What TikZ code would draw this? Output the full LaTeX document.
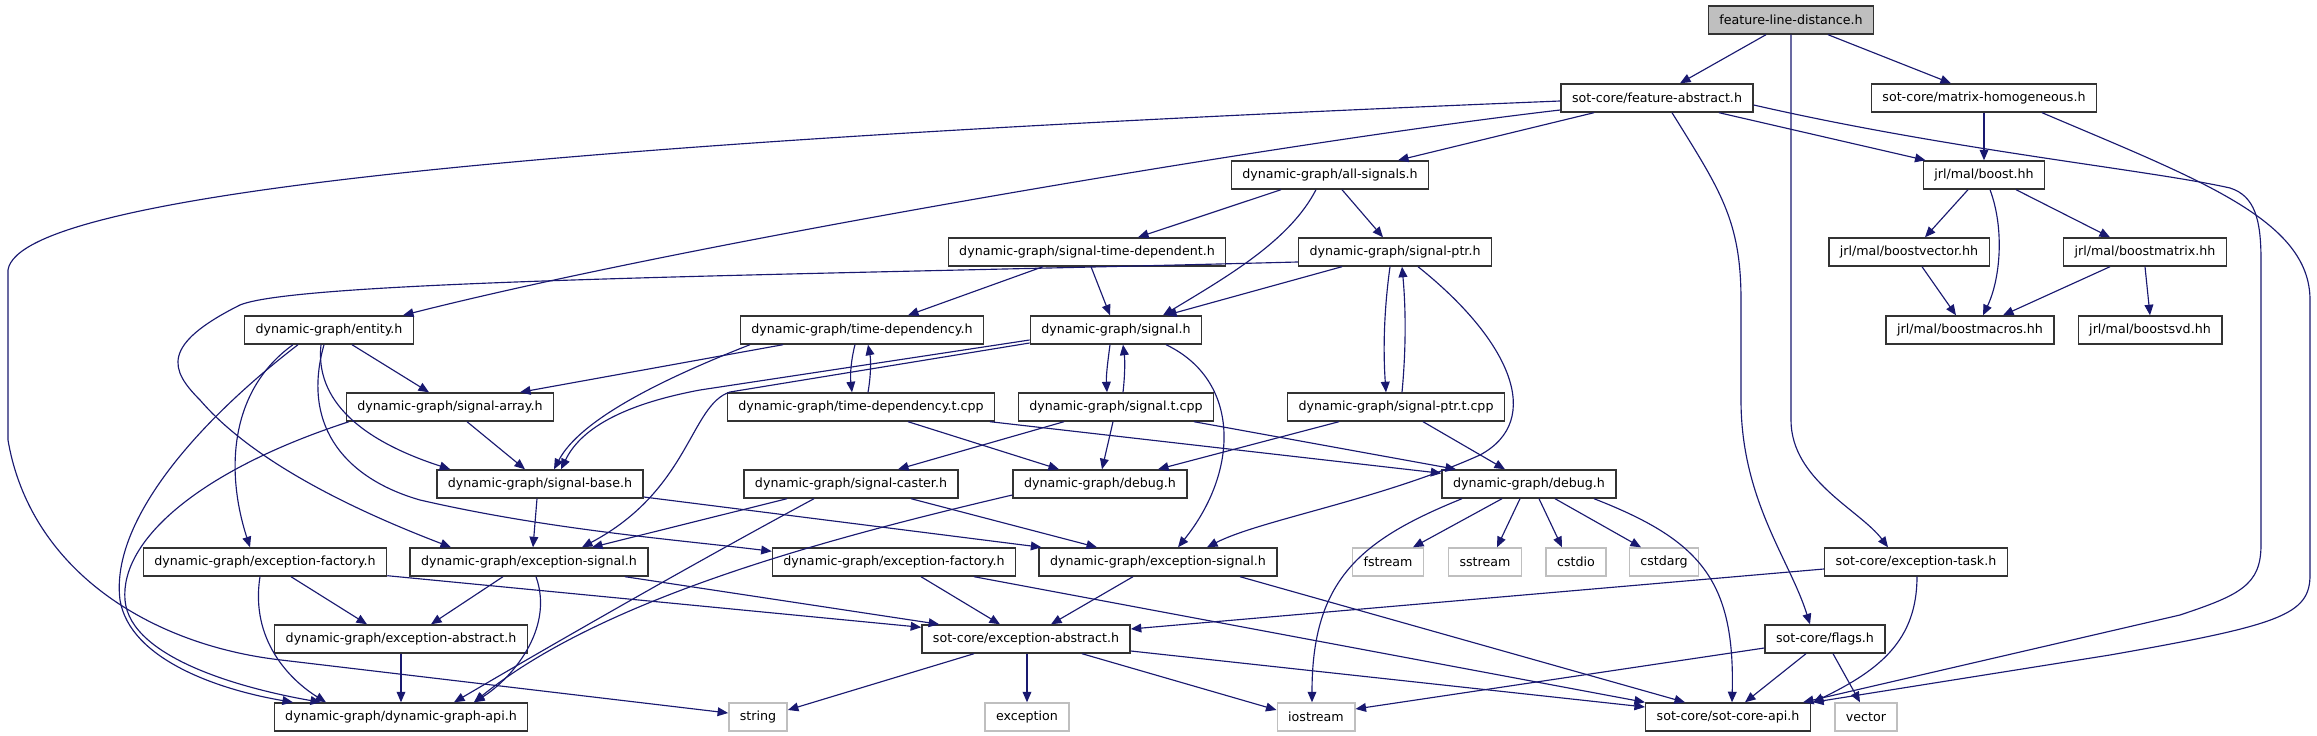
\documentclass[tikz,border=0pt]{standalone}
\usepackage{fontspec}
\setmainfont{DejaVu Sans}
\usepackage{tikz}
\usetikzlibrary{arrows.meta,calc}
\usepackage{xcolor}
\definecolor{Midnight}{RGB}{25,25,112}
\definecolor{RootGray}{RGB}{191,191,191}
\definecolor{SysGray}{RGB}{191,191,191}
\tikzset{
  fnode/.style={rectangle,draw=black!80,fill=white,line width=0.8pt,
                font=\fontsize{7.2}{9}\selectfont,minimum height=0.56cm,
                inner xsep=0.22cm,inner ysep=0pt},
  fsys/.style={fnode,draw=SysGray},
  froot/.style={fnode,fill=RootGray},
  fedge/.style={-{Triangle[length=6pt,width=5pt]},Midnight,line width=0.65pt},
}

\begin{document}
\begin{tikzpicture}[x=0.02cm,y=-0.02cm]
    \useasboundingbox (0,0) rectangle (2317,736);
    % headers
    \node[froot] (fld) at (1791,20) {feature-line-distance.h};
    \node[fnode] (featabs) at (1657,98) {sot-core/feature-abstract.h};
    \node[fnode] (matHom) at (1984,98) {sot-core/matrix-homogeneous.h};
    \node[fnode] (boost) at (1984,175) {jrl/mal/boost.hh};
    \node[fnode] (bvec) at (1909,252) {jrl/mal/boostvector.hh};
    \node[fnode] (bmat) at (2145,252) {jrl/mal/boostmatrix.hh};
    \node[fnode] (bmacros) at (1970,330) {jrl/mal/boostmacros.hh};
    \node[fnode] (bsvd) at (2150,330) {jrl/mal/boostsvd.hh};
    \node[fnode] (allsig) at (1330,175) {dynamic-graph/all-signals.h};
    \node[fnode] (sigtd) at (1087,252) {dynamic-graph/signal-time-dependent.h};
    \node[fnode] (sigptr) at (1395,252) {dynamic-graph/signal-ptr.h};
    \node[fnode] (entity) at (329,330) {dynamic-graph/entity.h};
    \node[fnode] (timedep) at (862,330) {dynamic-graph/time-dependency.h};
    \node[fnode] (signal) at (1116,330) {dynamic-graph/signal.h};
    \node[fnode] (sigarr) at (450,407) {dynamic-graph/signal-array.h};
    \node[fnode] (timedept) at (861,407) {dynamic-graph/time-dependency.t.cpp};
    \node[fnode] (sigt) at (1116,407) {dynamic-graph/signal.t.cpp};
    \node[fnode] (sigptrt) at (1396,407) {dynamic-graph/signal-ptr.t.cpp};
    \node[fnode] (sigbase) at (540,484) {dynamic-graph/signal-base.h};
    \node[fnode] (sigcast) at (851,484) {dynamic-graph/signal-caster.h};
    \node[fnode] (debugA) at (1100,484) {dynamic-graph/debug.h};
    \node[fnode] (debugB) at (1529,484) {dynamic-graph/debug.h};
    \node[fnode] (excfacA) at (265,562) {dynamic-graph/exception-factory.h};
    \node[fnode] (excsigA) at (529,562) {dynamic-graph/exception-signal.h};
    \node[fnode] (excfacB) at (894,562) {dynamic-graph/exception-factory.h};
    \node[fnode] (excsigB) at (1158,562) {dynamic-graph/exception-signal.h};
    \node[fsys] (fstream) at (1388,562) {fstream};
    \node[fsys] (sstream) at (1485,562) {sstream};
    \node[fsys] (cstdio) at (1576,562) {cstdio};
    \node[fsys] (cstdarg) at (1664,562) {cstdarg};
    \node[fnode] (exctask) at (1916,562) {sot-core/exception-task.h};
    \node[fnode] (dgexcabs) at (401,639) {dynamic-graph/exception-abstract.h};
    \node[fnode] (sotexcabs) at (1026,639) {sot-core/exception-abstract.h};
    \node[fnode] (flags) at (1825,639) {sot-core/flags.h};
    \node[fnode] (dgapi) at (401,717) {dynamic-graph/dynamic-graph-api.h};
    \node[fsys] (string) at (758,717) {string};
    \node[fsys] (exception) at (1027,717) {exception};
    \node[fsys] (iostream) at (1316,717) {iostream};
    \node[fnode] (sotapi) at (1728,717) {sot-core/sot-core-api.h};
    \node[fsys] (vector) at (1866,717) {vector};

    % top part
    \draw[fedge] ($(fld.south)+(-25,0)$) -- ($(featabs.north)+(23,0)$);
    \draw[fedge] ($(fld.south)+(37,0)$) -- ($(matHom.north)+(-33,0)$);
    \draw[fedge] (fld.south) -- (1791,420) .. controls (1791,480) and (1860,510) .. ($(exctask.north)+(-28,0)$);
    \draw[fedge] ($(featabs.west)+(0,3)$) .. controls (600,140) and (20,190) .. (8,270) -- (8,440)
        .. controls (30,570) and (150,645) .. (281,660) -- ($(string.west)+(0,-4)$);
    \draw[fedge] ($(featabs.west)+(0,12)$) .. controls (1300,140) and (700,240) .. ($(entity.north)+(74,0)$);
    \draw[fedge] ($(featabs.south)+(-63,0)$) -- ($(allsig.north)+(68,0)$);
    \draw[fedge] ($(featabs.south)+(62,0)$) -- ($(boost.north west)+(3,0)$);
    \draw[fedge] ($(featabs.south)+(15,0)$) .. controls (1720,190) and (1741,220) .. (1741,300) -- (1741,400)
        .. controls (1741,500) and (1790,560) .. ($(flags.north)+(-15,0)$);
    \draw[fedge] ($(featabs.east)+(0,7)$) .. controls (1950,150) and (2150,170) .. (2230,188)
        .. controls (2255,196) and (2261,220) .. (2261,260) -- (2261,545)
        .. controls (2261,585) and (2240,595) .. (2180,615) -- ($(sotapi.north east)+(-8,0)$);
    \draw[fedge] (matHom.south) -- (boost.north);
    \draw[fedge] ($(matHom.south)+(58,0)$) .. controls (2200,180) and (2310,220) .. (2310,300) -- (2310,575)
        .. controls (2310,615) and (2280,625) .. (2110,655) -- ($(sotapi.north east)+(2,0)$);
    \draw[fedge] ($(boost.south)+(-16,0)$) -- ($(bvec.north)+(16,0)$);
    \draw[fedge] ($(boost.south)+(6,0)$) .. controls (2005,230) and (2000,280) .. ($(bmacros.north)+(13,0)$);
    \draw[fedge] ($(boost.south)+(32,0)$) -- ($(bmat.north)+(-35,0)$);
    \draw[fedge] ($(bvec.south)+(13,0)$) -- ($(bmacros.north)+(-14,0)$);
    \draw[fedge] ($(bmat.south)+(-35,0)$) -- ($(bmacros.north)+(33,0)$);
    \draw[fedge] (bmat.south) -- (bsvd.north);

    % signals
    \draw[fedge] ($(allsig.south)+(-49,0)$) -- ($(sigtd.north)+(51,0)$);
    \draw[fedge] ($(allsig.south)+(-14,0)$) .. controls (1290,240) and (1230,275) .. ($(signal.north)+(47,0)$);
    \draw[fedge] ($(allsig.south)+(12,0)$) -- ($(sigptr.north)+(-12,0)$);
    \draw[fedge] ($(sigtd.south)+(-44,0)$) -- ($(timedep.north)+(46,0)$);
    \draw[fedge] ($(sigtd.south)+(4,0)$) -- ($(signal.north)+(-6,0)$);
    \draw[fedge] ($(sigptr.south)+(-53,0)$) -- ($(signal.north)+(50,0)$);
    \draw[fedge] ($(sigptr.south)+(-5,0)$) .. controls (1384,310) and (1383,350) .. ($(sigptrt.north)+(-10,0)$);
    \draw[fedge] ($(sigptrt.north)+(6,0)$) .. controls (1406,350) and (1406,310) .. ($(sigptr.south)+(7,0)$);
    \draw[fedge] ($(sigptr.south)+(23,0)$) .. controls (1510,340) and (1545,420) .. (1480,455)
        .. controls (1380,500) and (1260,520) .. ($(excsigB.north)+(49,0)$);
    \draw[fedge] ($(sigptr.west)+(0,10)$) .. controls (800,275) and (300,280) .. (240,305)
        .. controls (160,345) and (170,370) .. (200,400)
        .. controls (260,470) and (380,520) .. ($(excsigA.north)+(-78,0)$);
    \draw[fedge] ($(entity.south)+(23,0)$) -- ($(sigarr.north)+(-21,0)$);
    \draw[fedge] ($(entity.south)+(-8,0)$) .. controls (315,400) and (360,440) .. ($(sigbase.north west)+(14,0)$);
    \draw[fedge] ($(entity.south)+(-5,0)$) .. controls (300,430) and (350,480) .. (420,500)
        .. controls (550,530) and (680,540) .. ($(excfacB.north west)+(0,4)$);
    \draw[fedge] ($(entity.south)+(-36,0)$) .. controls (230,390) and (225,470) .. ($(excfacA.north)+(-15,0)$);
    \draw[fedge] ($(entity.south)+(-31,0)$) .. controls (200,420) and (110,520) .. (120,600)
        .. controls (130,660) and (220,690) .. ($(dgapi.north)+(-108,0)$);
    \draw[fedge] ($(sigarr.south)+(17,0)$) -- ($(sigbase.north)+(-15,0)$);
    \draw[fedge] ($(sigarr.south)+(-101,0)$) .. controls (200,470) and (120,540) .. (125,600)
        .. controls (130,660) and (250,690) .. ($(dgapi.north)+(-80,0)$);
    \draw[fedge] ($(timedep.south)+(-79,0)$) -- ($(sigarr.north)+(70,0)$);
    \draw[fedge] ($(timedep.south)+(-112,0)$) .. controls (660,380) and (580,420) .. ($(sigbase.north)+(14,0)$);
    \draw[fedge] ($(timedep.south)+(-7,0)$) .. controls (851,360) and (850,375) .. ($(timedept.north)+(-9,0)$);
    \draw[fedge] ($(timedept.north)+(7,0)$) .. controls (871,375) and (871,360) .. ($(timedep.south)+(6,0)$);
    \draw[fedge] ($(timedept.south)+(47,0)$) -- ($(debugA.north)+(-41,0)$);
    \draw[fedge] ($(timedept.south)+(129,0)$) -- ($(debugB.north west)+(0,4)$);
    \draw[fedge] ($(signal.south)+(-6,0)$) .. controls (1108,360) and (1106,375) .. ($(sigt.north)+(-9,0)$);
    \draw[fedge] ($(sigt.north)+(7,0)$) .. controls (1125,375) and (1125,360) .. ($(signal.south)+(7,0)$);
    \draw[fedge] ($(signal.west)+(0,10)$) -- (700,390) .. controls (620,405) and (580,430) .. ($(sigbase.north)+(21,0)$);
    \draw[fedge] ($(signal.west)+(0,13)$) -- (730,392) .. controls (690,405) and (690,490) .. ($(excsigA.north)+(53,0)$);
    \draw[fedge] ($(signal.south)+(50,0)$) .. controls (1240,380) and (1240,470) .. ($(excsigB.north)+(20,0)$);
    \draw[fedge] ($(sigt.south)+(-52,0)$) -- ($(sigcast.north)+(47,0)$);
    \draw[fedge] ($(sigt.south)+(-3,0)$) -- ($(debugA.north)+(2,0)$);
    \draw[fedge] ($(sigt.south)+(78,0)$) -- ($(debugB.north)+(-73,0)$);
    \draw[fedge] ($(sigptrt.south)+(-57,0)$) -- ($(debugA.north)+(58,0)$);
    \draw[fedge] ($(sigptrt.south)+(27,0)$) -- ($(debugB.north)+(-24,0)$);

    % exceptions and api
    \draw[fedge] ($(sigbase.south)+(-3,0)$) -- ($(excsigA.north)+(4,0)$);
    \draw[fedge] ($(sigbase.east)+(0,13)$) -- ($(excsigB.north west)+(3,0)$);
    \draw[fedge] ($(sigcast.south)+(-64,0)$) -- ($(excsigA.north)+(63,0)$);
    \draw[fedge] ($(sigcast.south)+(60,0)$) -- ($(excsigB.north)+(-61,0)$);
    \draw[fedge] ($(sigcast.south)+(-37,0)$) .. controls (700,560) and (560,640) .. ($(dgapi.north)+(53,0)$);
    \draw[fedge] ($(debugA.west)+(0,11)$) .. controls (820,540) and (600,600) .. ($(dgapi.north)+(73,0)$);
    \draw[fedge] ($(debugB.south)+(-27,0)$) -- ($(fstream.north)+(25,0)$);
    \draw[fedge] ($(debugB.south)+(-9,0)$) -- ($(sstream.north)+(12,0)$);
    \draw[fedge] ($(debugB.south)+(10,0)$) -- ($(cstdio.north)+(-14,0)$);
    \draw[fedge] ($(debugB.south)+(26,0)$) -- ($(cstdarg.north)+(-23,0)$);
    \draw[fedge] ($(debugB.south)+(-67,0)$) .. controls (1360,540) and (1312,580) .. ($(iostream.north)+(-4,0)$);
    \draw[fedge] ($(debugB.south)+(65,0)$) .. controls (1700,540) and (1735,580) .. ($(sotapi.north)+(4,0)$);
    \draw[fedge] ($(excfacA.south)+(26,0)$) -- ($(dgexcabs.north)+(-34,0)$);
    \draw[fedge] ($(excfacA.south)+(-5,0)$) .. controls (250,640) and (290,680) .. ($(dgapi.north)+(-75,0)$);
    \draw[fedge] ($(excfacA.south east)+(0,-1)$) -- ($(sotexcabs.north west)+(0,3)$);
    \draw[fedge] ($(excsigA.south)+(-26,0)$) -- ($(dgexcabs.north)+(30,0)$);
    \draw[fedge] ($(excsigA.south)+(7,0)$) .. controls (555,630) and (510,680) .. ($(dgapi.north)+(73,0)$);
    \draw[fedge] ($(excsigA.south)+(96,0)$) -- ($(sotexcabs.north west)+(18,0)$);
    \draw[fedge] ($(excfacB.south)+(27,0)$) -- ($(sotexcabs.north)+(-26,0)$);
    \draw[fedge] ($(excfacB.south)+(80,0)$) -- (sotapi.north west);
    \draw[fedge] ($(excsigB.south)+(-25,0)$) -- ($(sotexcabs.north)+(25,0)$);
    \draw[fedge] ($(excsigB.south)+(82,0)$) -- ($(sotapi.north)+(-43,0)$);
    \draw[fedge] ($(exctask.west)+(0,7)$) -- ($(sotexcabs.east)+(0,-10)$);
    \draw[fedge] ($(exctask.south)+(1,0)$) .. controls (1917,640) and (1880,670) .. ($(sotapi.north east)+(2,0)$);
    \draw[fedge] (dgexcabs.south) -- (dgapi.north);
    \draw[fedge] ($(sotexcabs.south)+(-52,0)$) -- ($(string.east)+(0,-7)$);
    \draw[fedge] ($(sotexcabs.south)+(1,0)$) -- (exception.north);
    \draw[fedge] ($(sotexcabs.south)+(56,0)$) -- ($(iostream.west)+(0,-7)$);
    \draw[fedge] ($(sotexcabs.east)+(0,12)$) -- ($(sotapi.west)+(0,-10)$);
    \draw[fedge] ($(flags.west)+(0,9)$) -- ($(iostream.east)+(0,-8)$);
    \draw[fedge] ($(flags.south)+(-19,0)$) -- ($(sotapi.north)+(17,0)$);
    \draw[fedge] ($(flags.south)+(8,0)$) -- ($(vector.north)+(-6,0)$);
\end{tikzpicture}
\end{document}
